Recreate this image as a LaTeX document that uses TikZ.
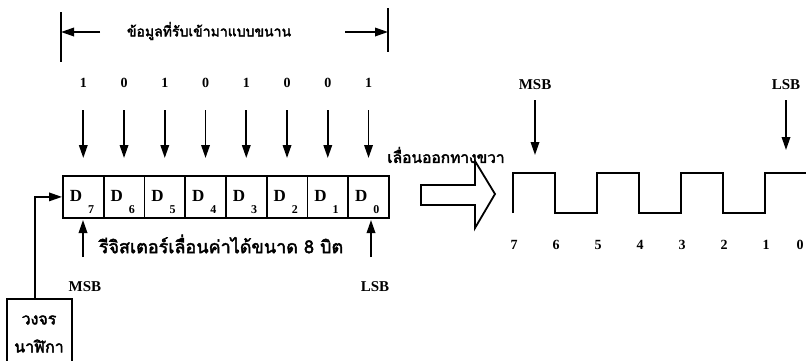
\documentclass[tikz,border=0pt]{standalone}
\usepackage{fontspec}
\setmainfont{Liberation Serif}
\newfontfamily\thai[Script=Thai,AutoFakeBold=2.5]{Loma}
\usetikzlibrary{arrows.meta,calc}
\begin{document}
\begin{tikzpicture}[x=1pt,y=-1pt,
  line width=1.8pt,
  tip/.style={-{Triangle[length=13pt,width=8.5pt]}},
  bit/.style={font=\bfseries\fontsize{14}{14}\selectfont, inner sep=0pt},
  lbl/.style={font=\bfseries\fontsize{15}{15}\selectfont, inner sep=0pt},
  dtxt/.style={font=\bfseries\fontsize{17}{17}\selectfont, inner sep=0pt},
  dsub/.style={font=\bfseries\fontsize{12}{12}\selectfont, inner sep=0pt},
  thaitext/.style={font=\thai\bfseries\fontsize{14}{14}\selectfont, inner sep=0pt},
  cell/.style={draw, minimum width=40.75pt, minimum height=42pt, inner sep=0pt, anchor=north west},
]
\useasboundingbox (0,0) rectangle (806,360);
\fill[white] (0,0) rectangle (806,360);
\clip (0,0) rectangle (806,360);

% ---- span of the parallel input ----
\coordinate (spanLtop) at (61,12);  \coordinate (spanLbot) at (61,62);
\coordinate (spanRtop) at (388,8);  \coordinate (spanRbot) at (388,52);
\draw (spanLtop) -- (spanLbot);
\draw (spanRtop) -- (spanRbot);
\node[thaitext] (spantxt) at (209,31) {ข้อมูลที่รับเข้ามาแบบขนาน};
\coordinate (spanL) at (61,32);
\coordinate (spanR) at (388,32);
\coordinate (spanLs) at (100,32);
\coordinate (spanRs) at (345,32);
\draw[tip] (spanLs) -- (spanL);
\draw[tip] (spanRs) -- (spanR);

% ---- 8-bit shift register ----
\foreach \i/\b in {0/1,1/0,2/1,3/0,4/1,5/0,6/0,7/1} {
  \pgfmathtruncatemacro{\n}{7-\i}
  \node[cell] (c\i) at (62+40.75*\i,175) {};
  \node[dtxt] (d\i) at ($(c\i.north west)+(14,21)$) {D};
  \node[dsub] (s\i) at ($(c\i.north west)+(29,35)$) {\n};
  \node[bit] (b\i) at ($(c\i.north)+(0,-92)$) {\b};
  \coordinate (in\i) at ($(c\i.north)+(0,-65)$);
  \coordinate (inend\i) at ($(c\i.north)+(0,-17)$);
  \draw[tip] (in\i) -- (inend\i);
}

% pointers to the end bits
\coordinate (msbTail) at (83,257); \coordinate (msbHead) at (83,220);
\coordinate (lsbTail) at (371,257); \coordinate (lsbHead) at (371,220);
\draw[tip] (msbTail) -- (msbHead);
\draw[tip] (lsbTail) -- (lsbHead);
\node[lbl] (msbL) at (85,287) {MSB};
\node[lbl] (lsbL) at (375,287) {LSB};
\node[thaitext, font=\thai\bfseries\fontsize{18}{18}\selectfont] (regtxt) at (221,244) {รีจิสเตอร์เลื่อนค่าได้ขนาด 8 บิต};

% ---- clock circuit ----
\draw (7,299) rectangle (72,375);
\node[thaitext, font=\thai\bfseries\fontsize{16}{16}\selectfont] (clk1) at (39,320) {วงจร};
\node[thaitext, font=\thai\bfseries\fontsize{16}{16}\selectfont] (clk2) at (39,346) {นาฬิกา};
\coordinate (clkOut) at (35,299);
\draw[tip] (clkOut) |- (c0.west);

% ---- shift direction ----
\node[thaitext, font=\thai\bfseries\fontsize{15.5}{15.5}\selectfont] (shifttxt) at (446,155) {เลื่อนออกทางขวา};
\draw (421,185) -- (475,185) -- (475,161) -- (495,194) -- (475,228) -- (475,205) -- (421,205) -- cycle;

% ---- serial output waveform ----
\draw (513,213) -- (513,173) -- (555,173) -- (555,213) -- (597,213) -- (597,173)
  -- (639,173) -- (639,213) -- (681,213) -- (681,173) -- (723,173) -- (723,213)
  -- (765,213) -- (765,173) -- (807,173) -- (807,213);
\foreach \k/\v in {0/7,1/6,2/5,3/4,4/3,5/2,6/1} {
  \node[bit] (w\k) at (514+42*\k,245) {\v};
}
\node[bit] (w7) at (800,245) {0};
\node[lbl] (wmsb) at (535,85) {MSB};
\node[lbl] (wlsb) at (786,85) {LSB};
\coordinate (wmsbT) at (535,100); \coordinate (wmsbH) at (535,155);
\coordinate (wlsbT) at (786,100); \coordinate (wlsbH) at (786,150);
\draw[tip] (wmsbT) -- (wmsbH);
\draw[tip] (wlsbT) -- (wlsbH);
\end{tikzpicture}
\end{document}
